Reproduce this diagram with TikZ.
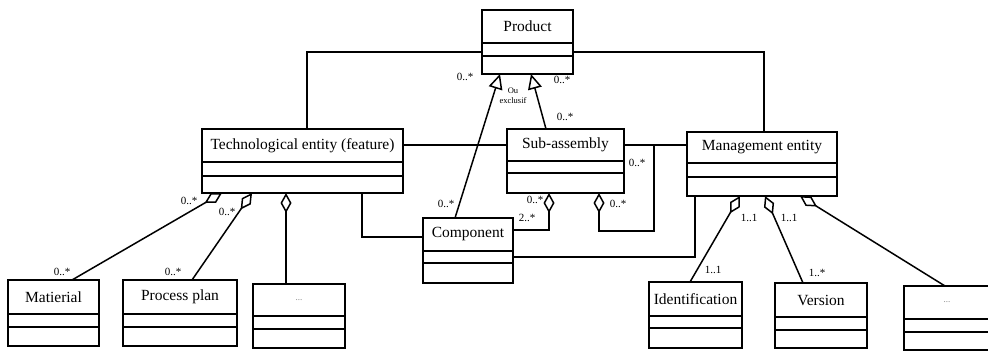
\documentclass[tikz,border=0pt]{standalone}
\usepackage{fontspec}
\setmainfont{Liberation Serif}
\usetikzlibrary{arrows.meta}
\tikzset{
  cls/.style={draw, line width=1.5pt, inner sep=0pt, outer sep=0pt, anchor=north west},
  ttl/.style={font=\fontsize{15.5}{18}\selectfont, inner sep=0pt},
  conn/.style={line width=1.5pt},
  mult/.style={font=\fontsize{11}{12}\selectfont, inner sep=0pt},
  agg/.style={conn, {Diamond[open,length=20pt,width=11pt]}-},
  gen/.style={conn, -{Triangle[open,length=15pt,width=14pt]}},
}
\newcommand{\umlcls}[8]{%
  \node[cls, minimum width={(#4-#2)*1pt}, minimum height={(#5-#3)*1pt}] (#1) at (#2,#3) {};
  \node[ttl] (#1-title) at ({(#2+#4)/2},{(#3+#6)/2}) {#8};
  \draw[line width=1.5pt] (#2,#6) -- (#4,#6) (#2,#7) -- (#4,#7);
}
\newcommand{\dotstext}{{\fontsize{9}{10}\selectfont\color{gray}...}}
\begin{document}
\begin{tikzpicture}[x=1pt,y=-1pt]
\useasboundingbox (0,0) rectangle (988,351);
% classes
\umlcls{product}{482}{10}{573}{74}{43}{56}{Product}
\umlcls{tech}{202}{129}{403}{193}{162}{176}{Technological entity (feature)}
\umlcls{sub}{507}{129}{624}{193}{161}{173}{Sub-assembly}
\umlcls{comp}{423}{218}{513}{283}{251}{263}{Component}
\umlcls{mgmt}{687}{132}{837}{196}{163}{177}{Management entity}
\umlcls{mat}{8}{280}{99}{346}{314}{327}{Matierial}
\umlcls{pp}{123}{280}{237}{346}{314}{327}{Process plan}
\umlcls{dotsa}{253}{284}{345}{348}{316}{329}{\dotstext}
\umlcls{ident}{649}{282}{742}{348}{316}{328}{Identification}
\umlcls{version}{775}{283}{867}{348}{317}{330}{Version}
\umlcls{dotsb}{904}{286}{990}{350}{319}{332}{\dotstext}
% connectors
\draw[conn] ([yshift=-10pt]product.west) -| ([xshift=105pt]tech.north west);
\draw[conn] ([yshift=-10pt]product.east) -| ([xshift=77pt]mgmt.north west);
\draw[gen] ([xshift=32pt]comp.north west) -- ([xshift=18pt]product.south west);
\draw[gen] ([xshift=39pt]sub.north west) -- ([xshift=49pt]product.south west);
\draw[conn] ([yshift=16pt]tech.east) -- ([yshift=16pt]sub.west);
\draw[conn] ([yshift=16pt]sub.east) -- ([yshift=19pt]mgmt.west);
\coordinate (c7) at (654,231);
\draw[agg] ([xshift=92pt]sub.south west) |- (c7) |- ([yshift=16pt]sub.east);
\draw[agg] ([xshift=42pt]sub.south west) |- ([yshift=20.5pt]comp.east);
\draw[conn] ([xshift=160pt]tech.south west) |- ([yshift=13.5pt]comp.west);
\draw[conn] ([yshift=-6.5pt]comp.east) -| ([xshift=8pt]mgmt.south west);
\draw[agg] ([xshift=20pt]tech.south west) -- ([xshift=64pt]mat.north west);
\draw[agg] ([xshift=50pt]tech.south west) -- ([xshift=69pt]pp.north west);
\draw[agg] ([xshift=84pt]tech.south west) -- ([xshift=33pt]dotsa.north west);
\draw[agg] ([xshift=53pt]mgmt.south west) -- ([xshift=41pt]ident.north west);
\draw[agg] ([xshift=78pt]mgmt.south west) -- ([xshift=28pt]version.north west);
\draw[agg] ([xshift=113pt]mgmt.south west) -- ([xshift=41pt]dotsb.north west);
% multiplicities
\node[mult] (m1) at (465,77) {0..*};
\node[mult] (m2) at (562,80) {0..*};
\node[font=\fontsize{8.5}{10}\selectfont, align=center, inner sep=0pt] (ouex) at (513,96) {Ou\\exclusif};
\node[mult] (m3) at (565,117) {0..*};
\node[mult] (m4) at (446,204) {0..*};
\node[mult] (m5) at (637,163) {0..*};
\node[mult] (m6) at (535,200) {0..*};
\node[mult] (m7) at (527,218) {2..*};
\node[mult] (m8) at (618,204) {0..*};
\node[mult] (m9) at (189,201) {0..*};
\node[mult] (m10) at (227,212) {0..*};
\node[mult] (m11) at (62,272) {0..*};
\node[mult] (m12) at (173,272) {0..*};
\node[mult] (m13) at (749,218) {1..1};
\node[mult] (m14) at (789,218) {1..1};
\node[mult] (m15) at (713,270) {1..1};
\node[mult] (m16) at (817,273) {1..*};
\end{tikzpicture}
\end{document}
